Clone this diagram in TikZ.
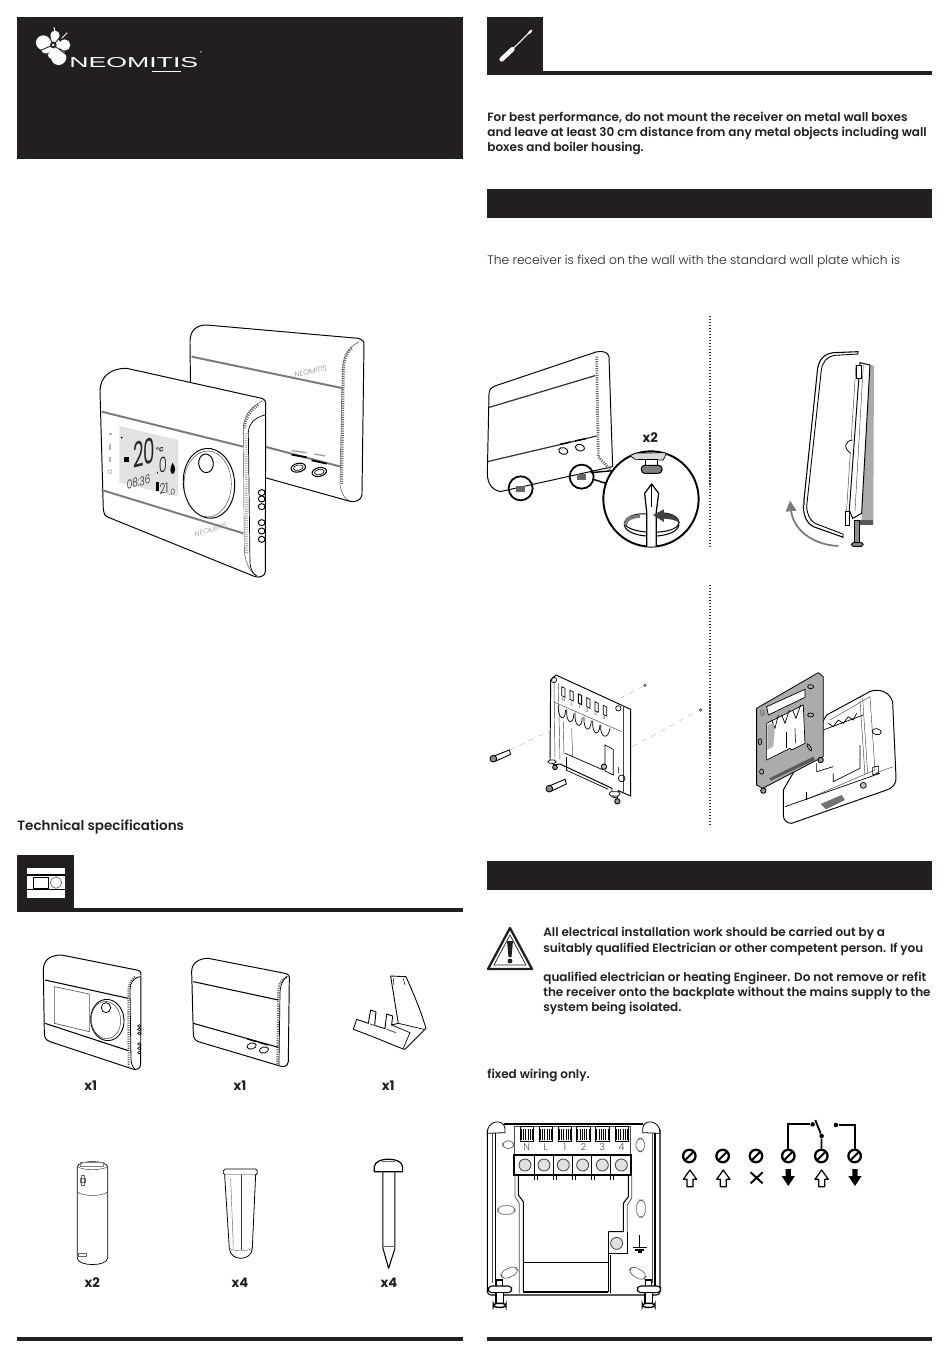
\documentclass[tikz,border=0pt]{standalone}
\usepackage{fontspec}
\setmainfont{Poppins}
\newfontfamily\lightfont{Poppins Light}
\newfontfamily\semifont{Poppins SemiBold}
\newfontfamily\logofont{Liberation Sans}
\usetikzlibrary{arrows.meta}
\definecolor{headblack}{HTML}{231F20}
\definecolor{bandgray}{HTML}{7A7A7A}
\definecolor{lcdgray}{HTML}{E2E2E2}
\definecolor{plategray}{HTML}{ABABAB}
\tikzset{
	devline/.style={draw=black,line width=0.55pt,fill=white,line join=round},
	fineline/.style={draw=black!75,line width=0.25pt},
	bandline/.style={draw=bandgray,line width=1.1pt},
	hatchline/.style={draw=black!60,line width=1.6pt,dash pattern=on 0.6pt off 0.7pt},
	termhatch/.style={draw=black,line width=6pt,dash pattern=on 0.55pt off 0.75pt},
	wireline/.style={draw=black,line width=1pt},
	boldtext/.style={anchor=west,inner sep=0pt,font=\fontsize{6.84}{9}\selectfont\semifont,text=headblack},
	lighttext/.style={anchor=west,inner sep=0pt,font=\fontsize{7}{9}\selectfont\lightfont,text=headblack},
	qtytext/.style={inner sep=0pt,font=\fontsize{7.5}{9}\selectfont\bfseries,text=headblack},
	termtext/.style={inner sep=0pt,font=\fontsize{5.5}{6}\selectfont\lightfont,text=black!70},
	lcdtext/.style={inner sep=0pt,text=black!85,yslant=0.24},
	screwsym/.style={circle,draw=black,line width=1.3pt,minimum size=0.25cm,inner sep=0pt,
		path picture={\draw[line width=1.1pt] (path picture bounding box.south west) -- (path picture bounding box.north east);}},
	wiredot/.style={circle,fill=black,minimum size=0.09cm,inner sep=0pt},
}
\begin{document}
\begin{tikzpicture}[x=0.02cm,y=-0.02cm]
	\useasboundingbox (0,0) rectangle (950,1360);

	% page frames
	\fill[headblack] (17,17) rectangle (463,159);
	\fill[headblack] (487,17) rectangle (543,75);
	\fill[headblack] (543,71) rectangle (932,75);
	\fill[headblack] (487,189) rectangle (932,218);
	\fill[headblack] (487,861) rectangle (932,890);
	\fill[headblack] (17,855) rectangle (74,912);
	\fill[headblack] (74,908) rectangle (463,912);
	\fill[headblack] (17,1337) rectangle (463,1341);
	\fill[headblack] (487,1337) rectangle (932,1341);
	\draw[black!80,line width=0.7pt,dash pattern=on 0.7pt off 1pt] (710,316) -- (710,548);
	\draw[black!80,line width=0.7pt,dash pattern=on 0.7pt off 1pt] (710,585) -- (710,826);

	% logo
	\begin{scope}[shift={(10,10)},scale=0.3333]
		\fill[white] (100,98) circle (22);
		\fill[white] (108,116) circle (15);
		\fill[white] (146,142) circle (23);
		\fill[white] (125,135) circle (11);
		\fill[white] (164,105) circle (17);
		\fill[white] (135,76) circle (14);
		\fill[white] (130,105) circle (22);
		\draw[headblack,line width=0.5pt] (130,105) -- (82,125);
		\draw[headblack,line width=0.5pt] (130,105) -- (170,135);
		\draw[headblack,line width=0.5pt] (130,105) -- (110,65);
		\draw[headblack,line width=0.5pt] (130,105) -- (160,70);
		\draw[white,line width=0.6pt] (135,66) -- (132,52);
		\draw[white,line width=0.6pt] (155,85) -- (172,68);
		\fill[headblack] (130,105) circle (10);
		\fill[white] (130,105) circle (4);
		\draw[white,line width=0.9pt] (425,184) -- (512,184);
	\end{scope}
	\node[anchor=west,inner sep=0pt,text=white,font=\fontsize{8.2}{9}\selectfont\logofont] (logoname) at (69,63) {\scalebox{1.85}[1]{NEOMITIS}};
	\node[inner sep=0pt,text=white,font=\fontsize{2.5}{3}\selectfont] (logomark) at (201,53) {®};

	% screwdriver
	\begin{scope}[shift={(480,10)},scale=0.3333]
		\draw[white,line width=2.6pt,line cap=round] (65,148) -- (97,118);
		\draw[white,line width=0.6pt] (97,118) -- (148,68);
		\draw[white,line width=1.4pt,line cap=round] (146,70) -- (154,62);
	\end{scope}

	% display icon
	\begin{scope}[shift={(10,850)},scale=0.3333]
		\fill[white] (50,55) rectangle (165,145);
		\draw[black,line width=0.6pt] (50,75) -- (165,75);
		\draw[black,line width=0.6pt] (50,118) -- (165,118);
		\draw[black,line width=0.5pt] (70,83) rectangle (115,115);
		\draw[black!60,line width=0.4pt] (138,98) circle (17);
	\end{scope}

	% texts
	\node[boldtext] (perf1) at (487,118) {For best performance, do not mount the receiver on metal wall boxes};
	\node[boldtext] (perf2) at (487,133) {and leave at least 30 cm distance from any metal objects including wall};
	\node[boldtext] (perf3) at (487,148) {boxes and boiler housing.};
	\node[lighttext] (fixing) at (487,261) {The receiver is fixed on the wall with the standard wall plate which is};
	\node[boldtext,font=\fontsize{7.7}{9}\selectfont\semifont] (techspec) at (17,827) {Technical specifications};
	\node[boldtext] (warn1) at (543,933) {All electrical installation work should be carried out by a};
	\node[boldtext] (warn2) at (543,949) {suitably qualified Electrician or other competent person. If you};
	\node[boldtext] (warn3) at (543,978) {qualified electrician or heating Engineer. Do not remove or refit};
	\node[boldtext] (warn4) at (543,993) {the receiver onto the backplate without the mains supply to the};
	\node[boldtext] (warn5) at (543,1008) {system being isolated.};
	\node[boldtext] (wiring) at (487,1075) {fixed wiring only.};

	% warning sign
	\draw[headblack,line width=1.3pt,line join=round] (510,928) -- (532,969) -- (488,969) -- cycle;
	\draw[headblack,line width=0.4pt,line join=round] (510,935) -- (526,965) -- (494,965) -- cycle;
	\fill[headblack] (507,941) -- (513,941) -- (511.5,957) -- (508.5,957) -- cycle;
	\fill[headblack] (510,961) circle (2.4);

	% receiver, large view
	\begin{scope}[shift={(80,300)},scale=0.3333]
		\draw[devline] (332,300) -- (330,125) .. controls (330,90) and (350,75) .. (380,75) -- (835,115)
			.. controls (850,120) and (853,125) .. (852,135) -- (846,585) .. controls (845,600) and (825,608) .. (810,604) -- (330,470) -- cycle;
		\draw[fineline] (838,125) .. controls (800,145) and (790,170) .. (787,210) -- (780,555) .. controls (785,580) and (795,600) .. (810,603);
		\draw[hatchline] (815,145) .. controls (795,160) and (790,190) .. (790,220) -- (785,555);
		\draw[bandline] (335,170) -- (790,265);
		\draw[bandline] (555,440) -- (782,500);
		\draw[black,line width=1pt] (635,464) -- (680,472);
		\draw[black,line width=1pt] (695,481) -- (740,491);
		\draw[black,line width=0.6pt,rotate around={12:(655,503)}] (655,503) ellipse (22 and 13);
		\draw[black,line width=0.6pt,rotate around={12:(718,516)}] (718,516) ellipse (22 and 13);
		\draw[black,line width=0.35pt,rotate around={12:(655,503)}] (655,503) ellipse (15 and 8);
		\draw[black,line width=0.35pt,rotate around={12:(718,516)}] (718,516) ellipse (15 and 8);
		\draw[black!40,line width=0.7pt] (635,452) -- (680,458);
		\draw[black!40,line width=0.7pt] (703,462) -- (735,468);
		\node[inner sep=0pt,yslant=0.2,text=black!45,font=\fontsize{4.2}{5}\selectfont\lightfont] (recname) at (692,214) {NEOMITIS};

		% thermostat on top
		\draw[devline] (60,275) .. controls (60,230) and (90,205) .. (140,205) -- (545,295)
			.. controls (555,298) and (558,305) .. (557,315) -- (556,815) .. controls (555,828) and (540,834) .. (525,830)
			-- (85,652) .. controls (75,648) and (70,640) .. (70,630) -- cycle;
		\draw[fineline] (550,302) .. controls (510,320) and (495,345) .. (490,380) -- (493,755) .. controls (497,790) and (510,815) .. (528,828);
		\draw[black,line width=0.4pt] (555,345) .. controls (525,352) and (508,370) .. (505,395) -- (510,790) .. controls (512,810) and (520,822) .. (530,827);
		\draw[hatchline] (535,315) .. controls (510,330) and (495,355) .. (494,385);
		\draw[hatchline,black!30] (498,400) -- (500,760);
		\draw[bandline] (65,335) -- (490,440);
		\draw[bandline] (65,570) -- (490,700);
		\fill[lcdgray] (118,378) -- (295,420) -- (295,590) -- (118,548) -- cycle;
		\node[lcdtext,font=\fontsize{20}{20}\selectfont] (lcdbig) at (192,458) {\scalebox{0.52}[1]{20}};
		\node[lcdtext,font=\fontsize{12}{12}\selectfont\lightfont] (lcddec) at (245,496) {\scalebox{0.62}[1]{.0}};
		\node[lcdtext,font=\fontsize{3.5}{4}\selectfont\bfseries] (lcdunit) at (240,449) {°C};
		\node[lcdtext,font=\fontsize{7}{8}\selectfont\lightfont] (lcdtime) at (176,546) {\scalebox{0.72}[1]{08:36}};
		\node[lcdtext,font=\fontsize{8}{8}\selectfont\lightfont] (lcdset) at (252,565) {\scalebox{0.72}[1]{21}};
		\node[lcdtext,font=\fontsize{4.5}{5}\selectfont\lightfont] (lcdsetdec) at (276,577) {.0};
		\fill[black] (227,545) rectangle (237,572);
		\fill[black] (278,488) .. controls (290,505) and (285,520) .. (278,522) .. controls (270,520) and (268,505) .. (278,488) -- cycle;
		\fill[black] (132,470) rectangle (146,487);
		\fill[black] (125,413) circle (3);
		\fill[black!30] (86,400) rectangle (96,405);
		\fill[black!30] (88,432) rectangle (93,450);
		\fill[black!30] (88,470) rectangle (93,485);
		\draw[black!30,line width=0.4pt] (90,515) circle (6);
		\draw[devline,rotate around={5:(387,550)}] (387,550) ellipse (77 and 105);
		\draw[fineline] (383,552) ellipse (71 and 99);
		\draw[devline,rotate around={5:(378,490)}] (378,490) ellipse (22 and 28);
		\draw[devline] (545,578) ellipse (10 and 9);
		\draw[devline] (545,597) ellipse (10 and 9);
		\draw[devline] (545,620) ellipse (10 and 9);
		\draw[devline] (545,668) ellipse (10 and 9);
		\draw[devline] (545,693) ellipse (10 and 9);
		\draw[devline] (545,718) ellipse (10 and 9);
		\node[inner sep=0pt,yslant=0.3,text=black!40,font=\fontsize{4.2}{5}\selectfont\lightfont] (thname) at (392,690) {NEOMITIS};
	\end{scope}

	% step one
	\begin{scope}[shift={(480,310)},scale=0.3333]
		\draw[devline] (27,250) .. controls (28,238) and (35,232) .. (45,228) -- (348,126) .. controls (365,122) and (385,125) .. (387,140)
			-- (398,470) -- (60,545) .. controls (40,540) and (22,525) .. (22,490) -- cycle;
		\draw[hatchline] (350,140) -- (355,440) -- (390,478);
		\draw[bandline,line width=0.7pt,black!80] (28,292) -- (345,197);
		\draw[bandline,line width=0.7pt,black!80] (22,455) -- (350,378);
		\draw[black,line width=0.8pt] (240,403) -- (272,396);
		\draw[black,line width=0.8pt] (285,393) -- (318,386);
		\draw[black,line width=0.5pt,rotate around={-15:(250,423)}] (250,423) ellipse (14 and 10);
		\draw[black,line width=0.5pt,rotate around={-15:(300,413)}] (300,413) ellipse (14 and 10);
		\draw[black,line width=1pt] (122,535) circle (36);
		\draw[black,line width=1pt] (305,500) circle (36);
		\fill[black!60] (108,528) rectangle (135,545);
		\fill[black!60] (290,492) rectangle (318,510);
		\draw[black,line width=0.8pt] (340,508) -- (384,522);
		\draw[black,line width=0.8pt] (332,488) -- (400,482);
		\draw[devline,line width=1.1pt] (513,567) circle (143);
		\begin{scope}
			\clip (513,567) circle (143);
			\draw[black,line width=0.4pt,fill=black!15] (440,430) -- (560,428) -- (550,450) -- (465,448) -- cycle;
			\draw[black,line width=0.5pt,fill=white] (495,448) rectangle (532,468);
			\draw[black,line width=0.6pt,fill=black!50,rounded corners=2pt] (484,466) rectangle (546,490);
			\draw[black,line width=0.6pt] (433,645) .. controls (433,610) and (490,610) .. (505,612);
			\draw[black,line width=0.6pt] (433,635) .. controls (430,675) and (600,680) .. (597,635);
			\draw[black,line width=0.6pt] (433,645) .. controls (440,690) and (590,690) .. (597,645);
			\draw[black,line width=0.6pt] (597,640) .. controls (597,615) and (560,607) .. (540,610);
			\draw[devline,line width=0.7pt] (500,720) -- (500,605) -- (494,550) -- (515,522) -- (536,550) -- (529,605) -- (529,720);
			\draw[black,line width=0.4pt] (515,525) -- (515,590);
			\draw[bandgray,line width=2pt] (436,645) .. controls (438,625) and (455,620) .. (480,618);
			\fill[black!75] (519,615) -- (552,598) -- (552,610) .. controls (575,610) and (595,620) .. (600,640) .. controls (590,630) and (570,627) .. (552,626) -- (552,636) -- cycle;
		\end{scope}
		\node[qtytext] (xtwo) at (511,383) {x2};
	\end{scope}

	% step two
	\begin{scope}[shift={(480,310)},scale=0.3333]
		\fill[plategray] (1170,165) -- (1182,167) -- (1180,645) -- (1145,645) -- (1145,590) -- cycle;
		\draw[devline] (1140,158) -- (1170,165) -- (1145,610) -- (1118,625) -- (1108,600) -- cycle;
		\draw[fineline] (1128,165) -- (1098,630);
		\draw[fineline] (1150,165) -- (1125,605);
		\draw[black,line width=0.4pt,fill=white] (1130,165) rectangle (1143,205);
		\draw[black,line width=0.4pt,fill=white] (1095,605) rectangle (1108,645);
		\draw[black,line width=0.4pt,fill=white] (1118,390) .. controls (1095,392) and (1088,415) .. (1113,430);
		\draw[black,line width=0.6pt] (1135,125) -- (1060,128) .. controls (1030,132) and (1018,150) .. (1013,175) -- (970,590) .. controls (972,620) and (980,640) .. (1000,650) -- (1090,682);
		\draw[black,line width=0.5pt] (1135,132) -- (1065,136) .. controls (1040,140) and (1028,155) .. (1024,180) -- (980,590) .. controls (982,615) and (990,630) .. (1005,640) -- (1088,672);
		\draw[black,line width=0.5pt] (1090,672) -- (1088,684);
		\draw[black,line width=0.5pt] (1135,125) -- (1133,132);
		\fill[black!60] (968,565) rectangle (974,585);
		\fill[black!65] (1130,630) rectangle (1180,645);
		\draw[black,line width=0.5pt,fill=black!45] (1124,630) rectangle (1138,698);
		\draw[black,line width=0.5pt,fill=black!45,rounded corners=1pt] (1114,698) rectangle (1150,709);
		\draw[bandgray,line width=1pt,-{Triangle[length=6pt,width=6pt]}] (1075,708) .. controls (1000,705) and (940,660) .. (930,572);
	\end{scope}

	% step three and four
	\begin{scope}[shift={(480,660)},scale=0.3333]
		\draw[black!25,line width=0.3pt,dashed] (90,270) -- (225,205);
		\draw[black!25,line width=0.3pt,dashed] (458,260) -- (655,152);
		\draw[black!25,line width=0.3pt,dashed] (420,115) -- (488,80);
		\draw[black!70,line width=0.4pt] (495,76) circle (4);
		\draw[black!70,line width=0.4pt] (662,150) circle (4);
		\draw[devline] (212,60) -- (228,45) -- (452,148) -- (452,408) -- (415,392) -- (412,415) -- (396,410) -- (396,385) -- (240,312) -- (222,315) -- (210,300) -- cycle;
		\draw[fineline] (222,60) -- (225,298);
		\draw[fineline] (235,70) -- (240,300);
		\draw[fineline] (430,140) -- (430,395);
		\draw[fineline] (220,125) -- (425,215);
		\draw[black,line width=0.4pt] (245,80) -- (255,85) -- (255,112) -- (245,107) -- cycle;
		\draw[black,line width=0.4pt] (270,91) -- (280,96) -- (280,123) -- (270,118) -- cycle;
		\draw[black,line width=0.5pt] (295,102) -- (305,107) -- (305,134) -- (295,129) -- cycle;
		\draw[black,line width=0.4pt] (320,113) -- (330,118) -- (330,145) -- (320,140) -- cycle;
		\draw[black,line width=0.4pt] (345,125) -- (355,130) -- (355,157) -- (345,152) -- cycle;
		\draw[black,line width=0.4pt] (370,136) -- (380,141) -- (380,168) -- (370,163) -- cycle;
		\node[termtext,font=\fontsize{2.8}{3}\selectfont] (pn) at (250,119) {N};
		\node[termtext,font=\fontsize{2.8}{3}\selectfont] (pl) at (275,130) {L};
		\node[termtext,font=\fontsize{2.8}{3}\selectfont] (pa) at (298,140) {1};
		\node[termtext,font=\fontsize{2.8}{3}\selectfont] (pb) at (322,151) {2};
		\node[termtext,font=\fontsize{2.8}{3}\selectfont] (pc) at (347,162) {3};
		\node[termtext,font=\fontsize{2.8}{3}\selectfont] (pd) at (372,174) {4};
		\draw[black,line width=0.4pt] (235,135) .. controls (232,175) and (255,190) .. (257,150);
		\draw[black,line width=0.4pt] (260,148) .. controls (257,190) and (280,200) .. (282,160);
		\draw[black,line width=0.4pt] (285,158) .. controls (282,200) and (305,212) .. (307,172);
		\draw[black,line width=0.4pt] (312,170) .. controls (309,212) and (332,222) .. (334,182);
		\draw[black,line width=0.4pt] (338,182) .. controls (335,224) and (358,232) .. (360,195);
		\draw[black,line width=0.4pt] (362,195) .. controls (360,236) and (385,240) .. (390,205);
		\draw[fineline] (250,185) -- (252,285);
		\draw[fineline] (275,205) -- (278,290);
		\draw[black,line width=0.4pt] (255,280) -- (370,330);
		\draw[black,line width=0.4pt] (258,330) -- (385,388);
		\draw[black,line width=0.4pt] (258,290) -- (258,330);
		\draw[black,line width=0.4pt] (375,255) -- (400,268) -- (400,345) -- (375,333) -- cycle;
		\draw[black,line width=0.5pt,fill=black!25] (372,320) circle (8);
		\draw[black!70,line width=0.3pt] (415,320) -- (415,340);
		\draw[black,line width=0.4pt,fill=white,rounded corners=1pt] (204,300) rectangle (228,310);
		\draw[black,line width=0.5pt,fill=black!40] (225,322) circle (7);
		\draw[black,line width=0.4pt,fill=white,rounded corners=1pt] (388,395) rectangle (420,408);
		\draw[black,line width=0.5pt,fill=black!40] (412,424) circle (8);
		\draw[black,line width=0.4pt] (415,145) circle (8);
		\draw[black,line width=0.4pt] (222,60) circle (8);
		\draw[black,line width=0.4pt] (425,355) circle (10);
		\draw[black,line width=0.5pt] (88,270) -- (45,287) -- (50,302) -- (92,283) -- cycle;
		\draw[black,line width=0.5pt,fill=black!45] (40,296) circle (10);
		\draw[black,line width=0.5pt] (255,358) -- (212,376) -- (217,392) -- (259,372) -- cycle;
		\draw[black,line width=0.5pt,fill=black!45] (208,386) circle (10);

		% open receiver behind the plate
		\draw[devline] (1040,165) -- (1160,100) .. controls (1180,85) and (1225,85) .. (1238,125) -- (1248,350)
			.. controls (1250,375) and (1235,385) .. (1220,390) -- (935,490) .. controls (920,490) and (910,480) .. (910,465) -- (910,390) -- cycle;
		\draw[fineline] (1050,180) -- (1170,110) -- (1185,330) -- (975,420);
		\draw[fineline] (1140,120) -- (1155,345);
		\draw[fineline] (1185,340) -- (1240,320);
		\draw[fineline] (1148,115) -- (1163,340);
		\draw[black,line width=0.4pt] (1030,210) -- (1150,165);
		\draw[black,line width=0.4pt] (1045,190) -- (1060,200) -- (1075,180);
		\draw[black,line width=0.4pt] (1075,180) -- (1090,190) -- (1105,170);
		\draw[black,line width=0.4pt] (1105,170) -- (1120,180) -- (1130,160);
		\draw[black,line width=0.4pt] (1060,340) -- (1060,365) -- (1140,325) -- (1140,255);
		\draw[black,line width=0.4pt] (1010,310) -- (1010,335) -- (1060,320);
		\draw[black,line width=0.4pt] (915,440) -- (1200,340);
		\draw[black,line width=0.4pt] (980,395) -- (980,420);
		\draw[black,line width=0.4pt,rotate around={-10:(1190,215)}] (1190,215) ellipse (14 and 9);
		\draw[black,line width=0.4pt] (1178,322) -- (1196,318) -- (1196,340) -- (1178,344) -- cycle;
		\draw[black,line width=0.4pt,fill=black!25] (1150,376) circle (9);
		\draw[black,line width=0.4pt] (1020,182) -- (1020,250);
		\fill[black!55] (1022,432) -- (1085,405) -- (1095,420) -- (1038,448) -- cycle;

		% back plate
		\draw[black,line width=0.45pt,fill=plategray,line join=round] (830,145) -- (1015,38) -- (1030,50) -- (1030,290) -- (848,385) -- (830,375) -- cycle;
		\draw[black,line width=0.4pt,fill=white] (860,140) -- (975,88) -- (975,112) -- (865,165) -- cycle;
		\draw[black,line width=0.4pt,fill=white] (860,190) -- (970,135) -- (975,250) -- (935,270) -- (930,265) -- (860,300) -- cycle;
		\draw[black,line width=0.4pt] (875,180) -- (885,205) -- (895,165);
		\draw[black,line width=0.4pt] (905,165) -- (915,190) -- (928,150);
		\draw[black,line width=0.4pt] (938,150) -- (948,175) -- (962,135);
		\fill[black!30] (862,195) -- (880,188) -- (884,215) -- (880,260) -- (862,270) -- cycle;
		\fill[white] (920,215) -- (970,190) -- (972,240) -- (920,265) -- cycle;
		\draw[black,line width=0.3pt] (920,215) -- (920,265);
		\draw[black,line width=0.3pt] (945,205) -- (947,250);
		\fill[black!65] (868,355) -- (1000,290) -- (1005,300) -- (872,362) -- cycle;
		\draw[black,line width=0.4pt] (992,80) ellipse (9 and 6);
		\draw[black,line width=0.4pt] (992,165) ellipse (9 and 6);
		\draw[black,line width=0.4pt,rotate around={-60:(988,262)}] (988,262) ellipse (12 and 4);
		\draw[black,line width=0.4pt] (840,245) ellipse (5 and 9);
		\draw[black,line width=0.4pt] (845,335) ellipse (6 and 8);
		\draw[black,line width=0.5pt,fill=black!40] (850,392) circle (8);
		\draw[black,line width=0.5pt,fill=black!40] (1022,300) circle (8);
		\node[inner sep=0pt,text=black!70,font=\fontsize{5}{5}\selectfont\lightfont] (plateidx) at (847,160) {9};
	\end{scope}

	% contents
	\begin{scope}[shift={(20,940)},scale=0.3333]
		\draw[devline] (70,90) .. controls (70,60) and (90,45) .. (125,45) -- (350,90) .. controls (360,92) and (364,95) .. (363,105)
			-- (362,375) .. controls (360,390) and (345,390) .. (335,386) -- (90,305) .. controls (78,300) and (74,295) .. (73,280) -- cycle;
		\draw[black,line width=0.45pt] (360,110) .. controls (338,115) and (330,130) .. (330,150) -- (333,360) .. controls (335,375) and (340,385) .. (345,387);
		\draw[hatchline,line width=1.2pt] (345,110) .. controls (330,122) and (325,135) .. (325,160) -- (326,380);
		\draw[black,line width=0.6pt] (75,120) -- (325,175);
		\draw[black,line width=0.6pt] (75,250) -- (325,332);
		\draw[black!70,line width=0.35pt] (103,140) -- (208,162) -- (208,275) -- (103,250) -- cycle;
		\draw[black,line width=0.5pt,rotate around={5:(262,240)}] (262,240) ellipse (50 and 62);
		\draw[black!70,line width=0.3pt,rotate around={5:(258,240)}] (258,240) ellipse (44 and 56);
		\draw[black,line width=0.45pt] (258,203) ellipse (14 and 15);
		\draw[black,line width=0.35pt] (358,258) ellipse (5 and 4);
		\draw[black,line width=0.35pt] (358,268) ellipse (5 and 4);
		\draw[black,line width=0.35pt] (358,280) ellipse (5 and 4);
		\draw[black,line width=0.35pt] (358,312) ellipse (5 and 4);
		\draw[black,line width=0.35pt] (358,325) ellipse (5 and 4);
		\draw[black,line width=0.35pt] (358,338) ellipse (5 and 4);

		\draw[devline] (515,95) .. controls (515,70) and (535,55) .. (565,55) -- (795,100) .. controls (805,102) and (810,108) .. (808,118)
			-- (805,365) .. controls (803,380) and (790,382) .. (780,378) -- (535,305) .. controls (525,300) and (520,295) .. (520,280) -- cycle;
		\draw[hatchline,line width=1.2pt] (800,112) .. controls (780,120) and (775,135) .. (775,160) -- (772,375);
		\draw[black,line width=0.4pt] (802,108) .. controls (785,122) and (780,140) .. (780,165) -- (777,375);
		\draw[black,line width=0.6pt] (520,125) -- (775,180);
		\draw[black,line width=0.6pt] (520,250) -- (775,322);
		\draw[black,line width=0.7pt] (682,297) -- (710,305);
		\draw[black,line width=0.7pt] (715,307) -- (745,315);
		\draw[black,line width=0.45pt,rotate around={14:(695,318)}] (695,318) ellipse (14 and 9);
		\draw[black,line width=0.45pt,rotate around={14:(732,330)}] (732,330) ellipse (14 and 9);

		\draw[devline,line width=0.5pt] (1112,108) -- (1158,110) .. controls (1185,170) and (1205,220) .. (1218,265) -- (1155,328) .. controls (1140,325) and (1075,295) .. (1000,268) -- (1010,238) -- (1045,250) -- (1052,210) -- (1068,216) -- (1064,256) -- (1095,266) -- (1100,222) -- (1118,228) -- (1115,255) -- (1135,250) -- cycle;
		\draw[black,line width=0.4pt] (1135,250) -- (1212,268);
		\draw[black,line width=0.4pt] (1115,255) -- (1170,278) -- (1150,325);
		\draw[black,line width=0.3pt] (1120,115) -- (1122,135);
		\draw[black,line width=0.3pt] (1150,115) -- (1155,135);
		\draw[black!60,line width=0.6pt] (1050,252) -- (1075,260);
		\draw[black!60,line width=0.6pt] (1100,268) -- (1128,278);

		\draw[devline,line width=0.4pt] (172,680) .. controls (175,660) and (260,660) .. (263,680) -- (263,955) .. controls (260,980) and (175,980) .. (172,955) -- cycle;
		\draw[black!70,line width=0.3pt] (172,680) .. controls (190,692) and (245,692) .. (263,680);
		\draw[black!50,line width=0.3pt] (180,668) rectangle (250,678);
		\draw[black!70,line width=0.3pt] (172,756) .. controls (190,770) and (245,770) .. (263,756);
		\draw[black!60,line width=0.3pt] (180,716) rectangle (196,726);
		\draw[black!60,line width=0.3pt] (183,705) rectangle (193,737);
		\draw[black!60,line width=0.3pt] (176,940) rectangle (198,950);

		\draw[devline,line width=0.45pt,rounded corners=1pt] (610,687) rectangle (712,705);
		\draw[devline,line width=0.45pt] (614,705) -- (628,925) .. controls (630,965) and (695,965) .. (697,925) -- (707,705);
		\draw[black!80,line width=0.35pt] (665,705) -- (665,930);
		\draw[black!60,line width=0.25pt] (628,925) .. controls (645,935) and (680,935) .. (697,925);
		\draw[black!60,line width=0.25pt] (632,715) -- (640,920);

		\draw[devline,line width=0.6pt] (1089,695) -- (1089,925) -- (1106,985) -- (1125,925) -- (1125,695);
		\draw[black!60,line width=0.25pt] (1089,918) -- (1125,918);
		\draw[devline,line width=0.7pt] (1063,680) .. controls (1065,650) and (1146,650) .. (1148,680) -- (1148,695) -- (1063,695) -- cycle;
		\draw[black!60,line width=0.3pt] (1085,665) -- (1125,665);

		\node[qtytext] (qtya) at (212,437) {x1};
		\node[qtytext] (qtyb) at (660,437) {x1};
		\node[qtytext] (qtyc) at (1105,437) {x1};
		\node[qtytext] (qtyd) at (217,1027) {x2};
		\node[qtytext] (qtye) at (660,1027) {x4};
		\node[qtytext] (qtyf) at (1107,1027) {x4};
	\end{scope}

	% wiring
	\begin{scope}[shift={(480,1100)},scale=0.3333]
		\draw[black,line width=0.6pt,rounded corners=2pt] (22,88) -- (22,585) -- (540,585) -- (540,88);
		\draw[black,line width=1.1pt] (73,72) -- (490,72);
		\draw[black,line width=0.45pt,fill=white] (22,100) .. controls (20,60) and (72,55) .. (75,85) -- (75,98) -- cycle;
		\draw[black,line width=0.45pt,fill=white] (488,98) -- (488,85) .. controls (490,55) and (542,60) .. (540,100) -- cycle;
		\draw[black,line width=0.7pt] (46,100) -- (46,560);
		\draw[black,line width=0.7pt] (525,100) -- (525,560);
		\draw[black!70,line width=0.35pt] (38,100) -- (38,550);
		\draw[black!70,line width=0.35pt] (516,100) -- (516,550);
		\draw[black!70,line width=0.35pt] (103,80) -- (103,165);
		\draw[black!70,line width=0.35pt] (452,80) -- (452,165);
		\draw[black!70,line width=0.35pt] (103,80) -- (452,80);
		\draw[black!60,line width=0.4pt,rounded corners=3pt] (68,122) rectangle (102,146);
		\draw[black!60,line width=0.4pt,rounded corners=3pt] (468,115) rectangle (494,155);
		\draw[black!60,line width=0.4pt,rounded corners=3pt] (53,317) rectangle (105,343);
		\draw[black!60,line width=0.4pt,rounded corners=3pt] (470,300) rectangle (496,352);
		\draw[black!60,line width=0.4pt,rounded corners=3pt,rotate around={25:(88,518)}] (62,505) rectangle (114,531);
		\draw[black!60,line width=0.4pt,rounded corners=3pt,rotate around={-30:(473,520)}] (447,507) rectangle (499,533);

		\draw[black,line width=0.4pt] (120,80) rectangle (160,125);
		\draw[black,line width=0.4pt] (177,80) rectangle (217,125);
		\draw[black,line width=0.4pt] (234,80) rectangle (274,125);
		\draw[black,line width=0.4pt] (290,80) rectangle (330,125);
		\draw[black,line width=0.4pt] (347,80) rectangle (387,125);
		\draw[black,line width=0.4pt] (405,80) rectangle (445,125);
		\draw[termhatch] (122,103) -- (158,103);
		\draw[termhatch] (179,103) -- (215,103);
		\draw[termhatch] (236,103) -- (272,103);
		\draw[termhatch] (292,103) -- (328,103);
		\draw[termhatch] (349,103) -- (385,103);
		\draw[termhatch] (407,103) -- (443,103);
		\node[termtext] (lblN) at (140,142) {N};
		\node[termtext] (lblL) at (197,142) {L};
		\node[termtext] (lblA) at (254,142) {1};
		\node[termtext] (lblB) at (310,142) {2};
		\node[termtext] (lblC) at (367,142) {3};
		\node[termtext] (lblD) at (425,142) {4};

		\draw[black,line width=1.1pt] (103,165) rectangle (452,225);
		\draw[black,line width=0.7pt] (163,165) -- (163,225);
		\draw[black,line width=0.7pt] (220,165) -- (220,225);
		\draw[black,line width=0.7pt] (277,165) -- (277,225);
		\draw[black,line width=0.7pt] (334,165) -- (334,225);
		\draw[black,line width=0.7pt] (391,165) -- (391,225);
		\draw[black!70,line width=0.5pt,fill=black!12] (135,195) circle (18);
		\draw[black!70,line width=0.5pt,fill=black!12] (192,195) circle (18);
		\draw[black!70,line width=0.5pt,fill=black!12] (250,195) circle (18);
		\draw[black!70,line width=0.5pt,fill=black!12] (308,195) circle (18);
		\draw[black!70,line width=0.5pt,fill=black!12] (367,195) circle (18);
		\draw[black!70,line width=0.5pt,fill=black!12] (424,195) circle (18);
		\draw[black,line width=0.8pt] (163,225) -- (163,240);
		\draw[black,line width=0.8pt] (172,225) -- (172,240);
		\draw[black,line width=0.8pt] (220,225) -- (220,240);
		\draw[black,line width=0.8pt] (229,225) -- (229,240);
		\draw[black,line width=0.8pt] (277,225) -- (277,240);
		\draw[black,line width=0.8pt] (286,225) -- (286,240);
		\draw[black,line width=0.8pt] (334,225) -- (334,240);
		\draw[black,line width=0.8pt] (343,225) -- (343,240);
		\draw[black,line width=0.8pt] (391,225) -- (391,240);
		\draw[black,line width=0.8pt] (400,225) -- (400,240);

		\draw[black,line width=0.6pt] (115,225) -- (115,285) -- (130,305) -- (130,575);
		\draw[black!70,line width=0.4pt] (105,225) -- (105,290) -- (118,310) -- (118,580);
		\draw[black,line width=0.6pt] (445,225) -- (445,290) -- (430,310) -- (430,395) -- (385,395);
		\draw[black!70,line width=0.4pt] (455,225) -- (455,295) -- (442,315) -- (442,395);
		\draw[black,line width=0.9pt] (385,395) -- (385,575);
		\draw[black,line width=0.5pt] (392,465) -- (392,580);
		\draw[black,line width=0.5pt] (130,487) -- (385,487);
		\draw[black,line width=1pt] (130,575) -- (385,575);
		\draw[black,line width=0.6pt] (385,460) -- (442,460) -- (442,395);
		\draw[black!70,line width=0.5pt,fill=black!12] (410,430) circle (18);
		\draw[black,line width=0.7pt] (478,405) -- (478,445);
		\draw[black,line width=0.9pt] (458,443) -- (500,443);
		\draw[black,line width=0.9pt] (466,450) -- (492,450);
		\draw[black,line width=0.9pt] (473,456) -- (485,456);

		\draw[black,line width=0.6pt,fill=white] (50,540) rectangle (68,560);
		\draw[black,line width=0.6pt,fill=white,rounded corners=2pt] (25,558) rectangle (95,578);
		\draw[black,line width=0.6pt,fill=white] (48,578) rectangle (70,610);
		\draw[black,line width=0.8pt,fill=white,rounded corners=2pt] (40,610) rectangle (78,622);
		\draw[black,line width=0.6pt,fill=white] (497,540) rectangle (515,560);
		\draw[black,line width=0.6pt,fill=white,rounded corners=2pt] (472,558) rectangle (542,578);
		\draw[black,line width=0.6pt,fill=white] (495,578) rectangle (517,610);
		\draw[black,line width=0.8pt,fill=white,rounded corners=2pt] (487,610) rectangle (525,622);

		\node[screwsym] (screwA) at (628,168) {};
		\node[screwsym] (screwB) at (728,168) {};
		\node[screwsym] (screwC) at (828,168) {};
		\node[screwsym] (screwD) at (925,168) {};
		\node[screwsym] (screwE) at (1024,168) {};
		\node[screwsym] (screwF) at (1124,168) {};
		\node[wiredot] (swleft) at (998,73) {};
		\node[wiredot] (swmid) at (1025,108) {};
		\node[wiredot] (swright) at (1068,75) {};
		\draw[wireline] (screwD) |- (swleft);
		\draw[wireline] (screwE) -- (swmid);
		\draw[wireline] (screwF) |- (swright);
		\draw[wireline] (1006,60) -- (swmid);

		\draw[black,line width=0.7pt,line join=round] (630,210) -- (650,238) -- (639,238) -- (639,260) -- (621,260) -- (621,238) -- (610,238) -- cycle;
		\draw[black,line width=0.7pt,line join=round] (730,210) -- (750,238) -- (739,238) -- (739,260) -- (721,260) -- (721,238) -- (710,238) -- cycle;
		\draw[black,line width=0.7pt,line join=round] (1025,210) -- (1045,238) -- (1034,238) -- (1034,260) -- (1016,260) -- (1016,238) -- (1005,238) -- cycle;
		\draw[black,line width=1.1pt] (812,217) -- (848,250);
		\draw[black,line width=1.1pt] (848,217) -- (812,250);
		\fill[black] (925,258) -- (905,228) -- (917,228) -- (917,207) -- (933,207) -- (933,228) -- (945,228) -- cycle;
		\fill[black] (1125,258) -- (1105,228) -- (1117,228) -- (1117,207) -- (1133,207) -- (1133,228) -- (1145,228) -- cycle;
	\end{scope}
\end{tikzpicture}
\end{document}
